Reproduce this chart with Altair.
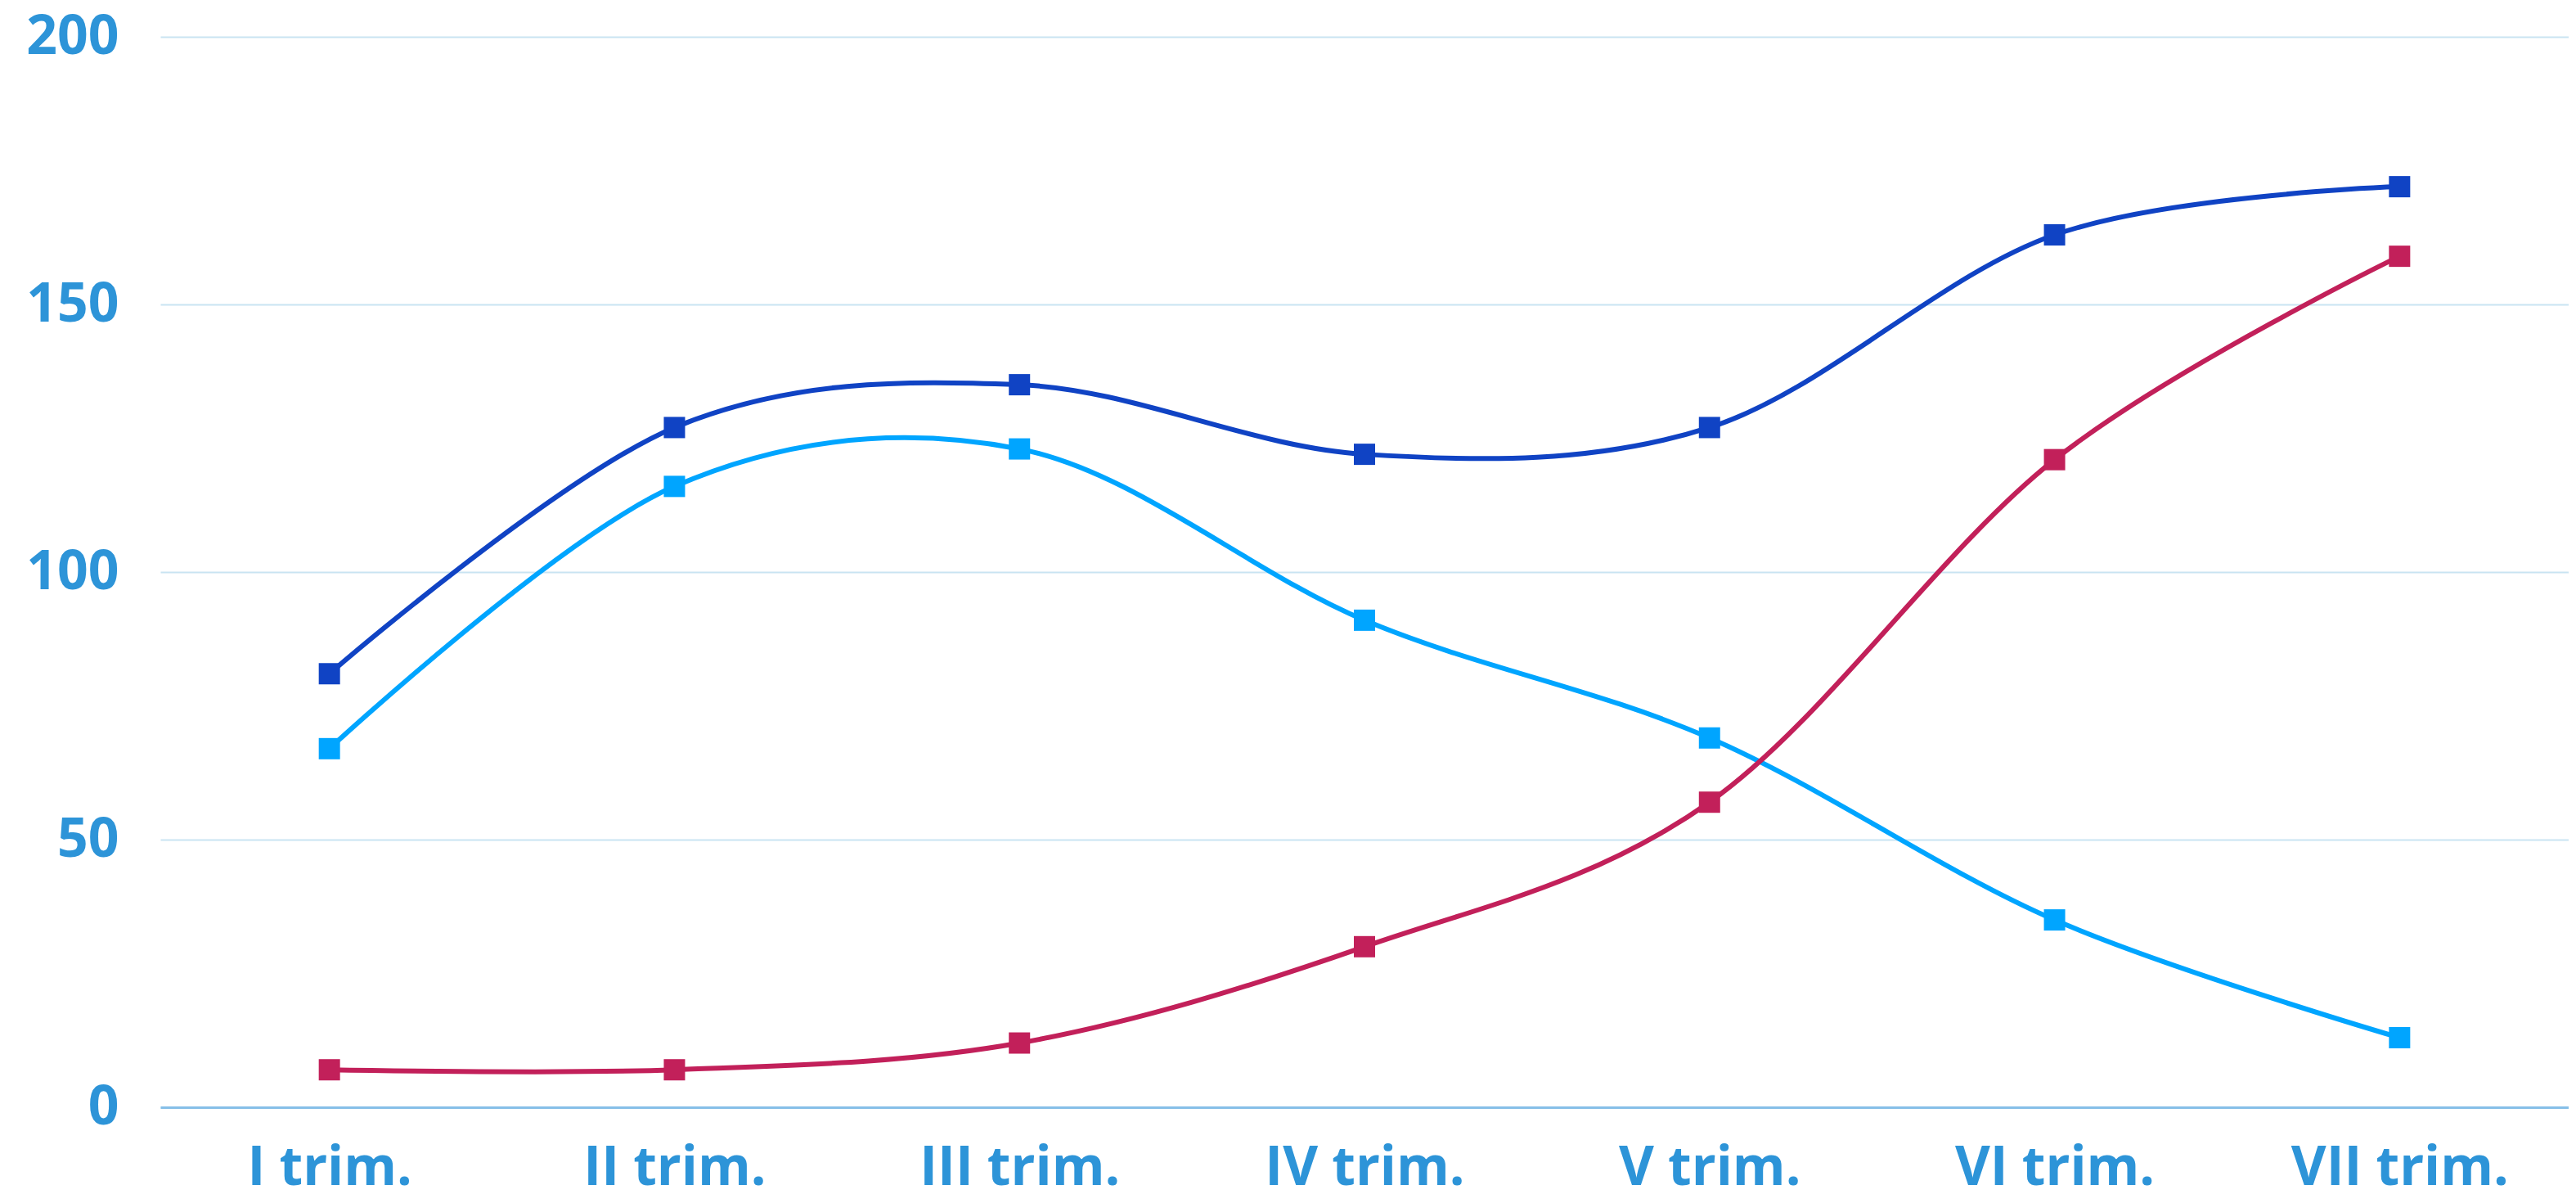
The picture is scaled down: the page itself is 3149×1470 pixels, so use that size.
import altair as alt
import pandas as pd

quarters = ["I trim.", "II trim.", "III trim.", "IV trim.", "V trim.", "VI trim.", "VII trim."]
series_names = ["Sērija 1", "Sērija 2", "Sērija 3"]
dark_blue = [81, 127, 135, 122, 127, 163, 172]
light_blue = [67, 116, 123, 91, 69, 35, 13]
crimson = [7, 7, 12, 30, 57, 121, 159]
colors = ["#1043c4", "#00a5ff", "#c2205a"]

rows = []
for name, vals in zip(series_names, [dark_blue, light_blue, crimson]):
    for q, v in zip(quarters, vals):
        rows.append({"quarter": q, "value": v, "series": name})
df = pd.DataFrame(rows)

label_color = "#2d94d8"

x = alt.X(
    "quarter:N",
    sort=quarters,
    scale=alt.Scale(type="point", padding=0.49),
    axis=alt.Axis(
        title=None,
        labelAngle=0,
        labelFont="Open Sans",
        labelFontWeight="bold",
        labelFontSize=66,
        labelColor=label_color,
        labelPadding=42,
        labelLimit=0,
        ticks=False,
        grid=False,
        domain=True,
        domainColor="#86bfe8",
        domainWidth=3,
    ),
)
y = alt.Y(
    "value:Q",
    scale=alt.Scale(domain=[0, 200], nice=False),
    axis=alt.Axis(
        title=None,
        values=[0, 50, 100, 150, 200],
        labelFont="Open Sans",
        labelFontWeight="bold",
        labelFontSize=66,
        labelColor=label_color,
        labelPadding=51,
        labelLimit=0,
        ticks=False,
        domain=False,
        grid=True,
        gridColor="#c9e4f2",
        gridWidth=2,
    ),
)
color = alt.Color(
    "series:N",
    scale=alt.Scale(domain=series_names, range=colors),
    legend=None,
)

base = alt.Chart(df).encode(x=x, y=y, color=color, detail="series:N")
lines = base.mark_line(interpolate="cardinal", strokeWidth=6)
points = base.mark_point(shape="square", filled=True, size=676, opacity=1)

chart = (
    alt.layer(lines, points)
    .properties(
        width=2944,
        height=1308,
        autosize=alt.AutoSizeParams(type="none"),
        padding={"left": 188, "top": 37, "right": 0, "bottom": 108},
        background="white",
    )
    .configure_view(stroke=None)
)

chart.save("out.html", embed_options={"renderer": "svg", "actions": False})
